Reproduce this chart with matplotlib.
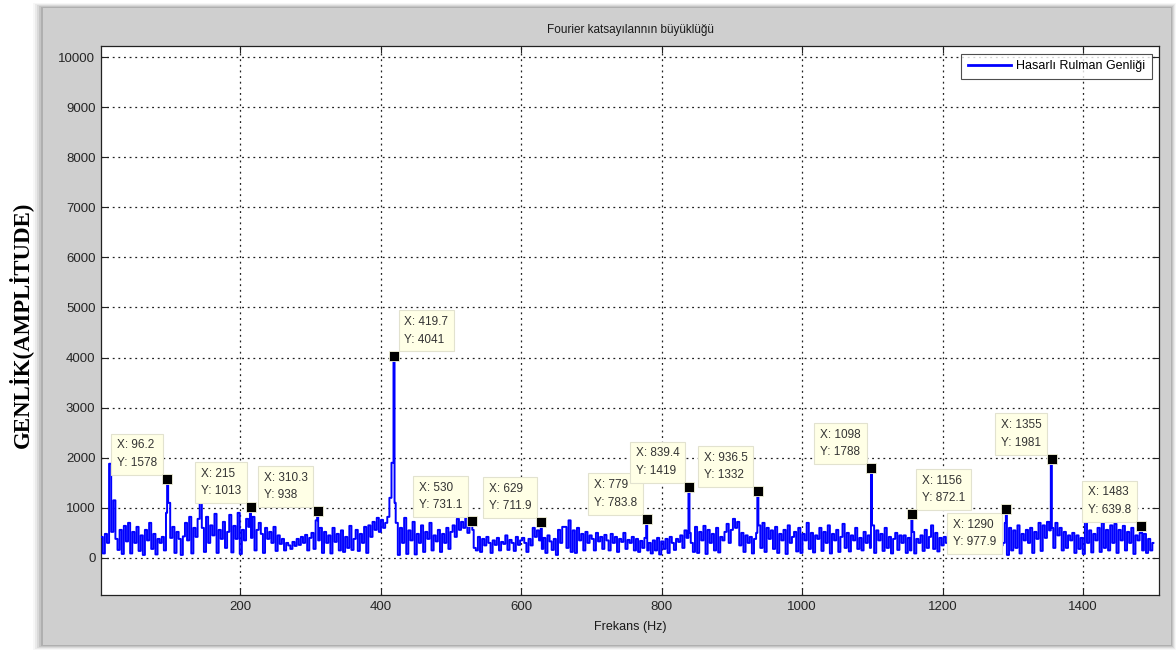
import numpy as np
import matplotlib
matplotlib.use("Agg")
import matplotlib.pyplot as plt
from matplotlib.patches import Rectangle

# ---------------- data ----------------
grid_start_hz = 3
grid_step_hz = 3
amplitude = [
    420, 90, 480, 300, 1880, 520, 1150, 380, 160, 560, 80, 640, 330, 700, 90, 520, 300, 620, 140, 450,
    60, 560, 350, 700, 180, 480, 70, 380, 300, 420, 150, 900, 1100, 400, 620, 100, 520, 380, 60, 430,
    700, 350, 820, 90, 600, 420, 780, 1120, 600, 120, 820, 300, 650, 450, 880, 100, 560, 380, 720, 200,
    520, 860, 110, 640, 380, 900, 80, 560, 350, 780, 620, 400, 820, 150, 560, 700, 480, 100, 600, 380,
    520, 300, 620, 140, 450, 280, 380, 150, 300, 250, 180, 320, 240, 380, 260, 420, 300, 460, 150, 400,
    500, 180, 750, 350, 600, 100, 520, 300, 450, 90, 600, 320, 480, 150, 550, 120, 420, 200, 640, 160,
    380, 560, 140, 480, 300, 620, 100, 650, 420, 720, 560, 800, 520, 760, 600, 700, 820, 1200, 1900, 1100,
    700, 60, 600, 300, 800, 80, 550, 350, 720, 70, 480, 300, 650, 120, 520, 380, 700, 150, 450, 330,
    560, 120, 480, 300, 600, 180, 520, 650, 420, 780, 560, 720, 600, 800, 500, 680, 560, 200, 150, 420,
    120, 380, 250, 420, 300, 100, 350, 260, 400, 150, 320, 280, 450, 160, 360, 300, 140, 420, 260, 350,
    400, 300, 120, 380, 250, 600, 420, 550, 350, 180, 400, 100, 450, 330, 160, 380, 60, 560, 300, 620,
    620, 200, 750, 120, 550, 100, 600, 350, 480, 150, 520, 300, 450, 380, 150, 500, 330, 420, 180, 460,
    350, 150, 480, 300, 420, 120, 380, 320, 500, 180, 360, 300, 420, 150, 380, 120, 340, 200, 400, 150,
    300, 90, 350, 150, 400, 70, 330, 180, 380, 100, 420, 300, 160, 380, 320, 450, 200, 550, 400, 500,
    300, 120, 620, 100, 520, 350, 640, 80, 560, 300, 480, 150, 600, 110, 420, 350, 520, 680, 300, 560,
    780, 600, 720, 250, 500, 120, 450, 300, 420, 90, 380, 500, 650, 200, 700, 120, 600, 380, 550, 180,
    620, 100, 480, 350, 560, 80, 650, 300, 420, 520, 130, 600, 100, 480, 350, 700, 180, 500, 110, 450,
    380, 600, 140, 520, 300, 650, 90, 480, 350, 560, 120, 420, 680, 200, 500, 130, 450, 350, 600, 180,
    400, 150, 520, 300, 450, 200, 650, 100, 550, 350, 480, 140, 600, 200, 420, 90, 380, 500, 160, 450,
    300, 450, 100, 400, 150, 520, 90, 380, 300, 450, 140, 560, 200, 420, 650, 180, 500, 130, 400, 250,
    420, 300, 500, 250, 400, 300, 450, 200, 380, 300, 420, 250, 400, 320, 460, 280, 380, 300, 420, 260,
    350, 300, 420, 250, 400, 300, 380, 250, 300, 700, 60, 600, 150, 550, 200, 650, 90, 480, 350, 560,
    300, 600, 100, 520, 380, 700, 140, 650, 400, 720, 550, 600, 200, 700, 450, 600, 150, 520, 200, 450,
    350, 500, 100, 450, 180, 400, 80, 720, 300, 550, 110, 480, 350, 600, 120, 700, 200, 560, 150, 650,
    300, 680, 100, 560, 350, 640, 150, 520, 300, 600, 80, 450, 350, 500, 150, 480, 100, 380, 150, 300,
]

tip_x = [96.2, 215, 310.3, 419.7, 530, 629, 779, 839.4, 936.5, 1098, 1156, 1290, 1355, 1483]
tip_y = [1578, 1013, 938, 4041, 731.1, 711.9, 783.8, 1419, 1332, 1788, 872.1, 977.9, 1981, 639.8]
tip_labels_x = ["96.2", "215", "310.3", "419.7", "530", "629", "779", "839.4", "936.5",
                "1098", "1156", "1290", "1355", "1483"]
tip_labels_y = ["1578", "1013", "938", "4041", "731.1", "711.9", "783.8", "1419", "1332",
                "1788", "872.1", "977.9", "1981", "639.8"]
# box placement relative to the marker: 'ul' up-left, 'ur' up-right, 'dl' down-left
tip_side = ["ul", "ul", "ul", "ur", "ul", "ul", "ul", "ul", "ul", "ul", "ur", "dl", "ul", "ul"]

x_ticks = [200, 400, 600, 800, 1000, 1200, 1400]
y_ticks = [0, 1000, 2000, 3000, 4000, 5000, 6000, 7000, 8000, 9000, 10000]

title_text = "Fourier katsayılannın büyüklüğü"
xlabel_text = "Frekans (Hz)"
ylabel_text = "GENLİK(AMPLİTUDE)"
legend_text = "Hasarlı Rulman Genliği"

# ---------------- build line ----------------
freq = grid_start_hz + grid_step_hz * np.arange(len(amplitude))
xs = np.concatenate([freq, np.array(tip_x, dtype=float)])
ys = np.concatenate([np.array(amplitude, dtype=float), np.array(tip_y, dtype=float)])
order = np.argsort(xs, kind="stable")
xs, ys = xs[order], ys[order]

plt.rcParams['font.family'] = ['Liberation Sans', 'DejaVu Sans']

W, H = 1176, 650
fig = plt.figure(figsize=(W / 100, H / 100), dpi=100)
fig.patch.set_facecolor("white")

# gray MATLAB figure panel with soft shadow
px0, py0, px1, py1 = 43, 8, 1171, 645
for i, a in enumerate([0.03, 0.05, 0.07, 0.09, 0.11]):
    g = 5 - i
    fig.patches.append(Rectangle(((px0 - 2 * g) / W, 1 - (py1 + g) / H),
                                 (px1 - px0 + 3 * g) / W, (py1 - py0 + 2 * g) / H,
                                 transform=fig.transFigure, facecolor="black",
                                 edgecolor="none", alpha=a, zorder=0))
fig.patches.append(Rectangle((px0 / W, 1 - py1 / H), (px1 - px0) / W, (py1 - py0) / H,
                             transform=fig.transFigure, facecolor="#cfcfcf",
                             edgecolor="none", zorder=1))

ax_l, ax_r, ax_t, ax_b = 101, 1159, 46, 595
ax = fig.add_axes([ax_l / W, 1 - ax_b / H, (ax_r - ax_l) / W, (ax_b - ax_t) / H])
ax.set_facecolor("white")
ax.set_zorder(2)

ax.plot(xs, ys, color="#0000ff", lw=1.4, drawstyle="steps-mid", zorder=3)
ax.plot([], [], color="#0000ff", lw=2, label=legend_text)

ax.set_xlim(2, 1508)
ax.set_ylim(-740, 10220)
ax.set_xticks(x_ticks)
ax.set_yticks(y_ticks)
ax.grid(True, linestyle=(0, (1.5, 3)), color="#222222", lw=0.9)
ax.tick_params(direction="in", top=True, right=True, length=5, width=0.8,
               labelsize=9.5, labelcolor="#262626", color="#222222", pad=4)
for s in ax.spines.values():
    s.set_color("#222222")
    s.set_linewidth(0.9)

ax.set_title(title_text, fontsize=8.5, color="#1a1a1a", pad=9)
ax.set_xlabel(xlabel_text, fontsize=9, color="#1a1a1a", labelpad=6)

fig.text(20 / W, 1 - 325 / H, ylabel_text, rotation=90, ha="center", va="center",
         fontsize=16.5, fontweight="bold", family=["Liberation Serif", "DejaVu Serif"],
         color="black")

# data tips
ax.plot(tip_x, tip_y, linestyle="none", marker="s", ms=6.5, mfc="black",
        mec="#f5f5dc", mew=0.6, zorder=6)
off = 10
for x, y, lx, ly, side in zip(tip_x, tip_y, tip_labels_x, tip_labels_y, tip_side):
    if side == "ul":
        dxy, ha, va = (-off, off), "right", "bottom"
    elif side == "ur":
        dxy, ha, va = (off, off), "left", "bottom"
    else:
        dxy, ha, va = (-off, -off), "right", "top"
    ax.annotate(f"X: {lx}\nY: {ly}", xy=(x, y), xytext=dxy, textcoords="offset pixels",
                ha=ha, va=va, multialignment="left", fontsize=8.5, color="#333333",
                linespacing=1.6,
                bbox=dict(boxstyle="square,pad=0.5", fc="#ffffe6", ec="#e2e2cf", lw=0.8),
                zorder=5)

leg = ax.legend(loc="upper right", fontsize=9, handlelength=3.4, borderaxespad=0.6,
                fancybox=False, frameon=True, borderpad=0.55, handletextpad=0.4)
leg.get_frame().set_edgecolor("#222222")
leg.get_frame().set_linewidth(0.8)
leg.set_zorder(7)

fig.savefig("out.png", dpi=100, facecolor=fig.get_facecolor())
